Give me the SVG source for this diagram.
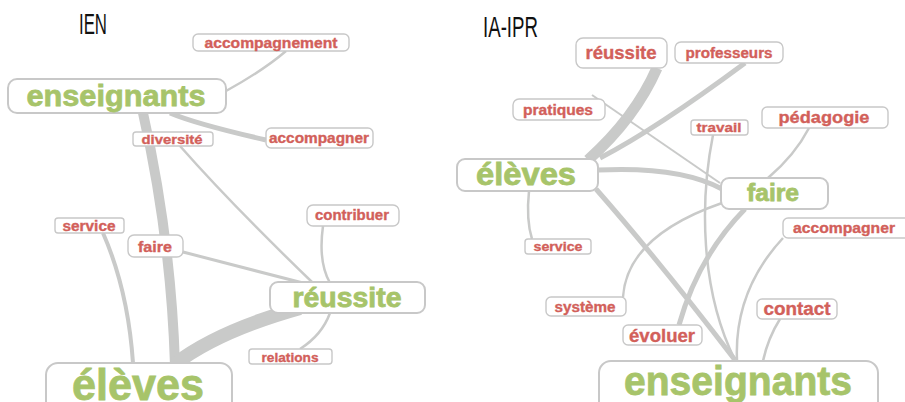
<svg xmlns="http://www.w3.org/2000/svg" width="905" height="402" viewBox="0 0 905 402">
<style>
.e{fill:none;stroke:#c9cac9;stroke-linecap:butt}
.b{fill:#fff;stroke:#c8c8c8;stroke-width:1.4}
.B{fill:#fff;stroke:#c8c8c8;stroke-width:2}
.r{fill:#d2605a;stroke:#d2605a;stroke-width:0.35;font-family:"Liberation Sans",Arial,sans-serif;font-weight:700;text-anchor:middle}
.g{fill:#a7c46a;stroke:#a7c46a;stroke-width:0.8;font-family:"Liberation Sans",Arial,sans-serif;font-weight:700;text-anchor:middle}
.t{fill:#111;font-family:"Liberation Sans",Arial,sans-serif;font-size:30px}
</style>
<rect width="905" height="402" fill="#fff"/>
<text class="t" x="79" y="34" textLength="28" lengthAdjust="spacingAndGlyphs">IEN</text>
<text class="t" x="483" y="37" textLength="55" lengthAdjust="spacingAndGlyphs">IA-IPR</text>
<g id="connectors">
<path class="e" stroke-width="2.5" d="M226 91 Q264 70 286 51"/>
<path class="e" stroke-width="5" d="M170 113 Q196 124 266 140"/>
<path class="e" stroke-width="10" d="M143 113 Q171 238 175 365"/>
<path class="e" stroke-width="2.5" d="M180 146 Q232 205 313 283"/>
<path class="e" stroke-width="3" d="M183 252 L303 283"/>
<path class="e" stroke-width="2.5" d="M323 226 Q318 262 330 283"/>
<path class="e" stroke-width="4" d="M103 233 Q128 290 133 363"/>
<path class="e" stroke-width="14" d="M300 308 Q218 331 175 364"/>
<path class="e" stroke-width="2.5" d="M330 313 Q322 335 300 349"/>
<path class="e" stroke-width="11" d="M588 160 Q635 118 657 68"/>
<path class="e" stroke-width="5" d="M600 158 Q656 129 745 63"/>
<path class="e" stroke-width="2" d="M592 95 L720 183"/>
<path class="e" stroke-width="5" d="M598 170 Q680 166 722 189"/>
<path class="e" stroke-width="2.5" d="M713 135 C700 200 700 290 735 360"/>
<path class="e" stroke-width="2.5" d="M809 128 Q795 155 768 178"/>
<path class="e" stroke-width="5" d="M596 189 Q660 262 735 360"/>
<path class="e" stroke-width="2.5" d="M529 191 Q526 220 532 239"/>
<path class="e" stroke-width="2.5" d="M722 203 Q627 236 623 297"/>
<path class="e" stroke-width="5" d="M745 209 Q698 257 679 325"/>
<path class="e" stroke-width="2.5" d="M783 238 Q734 291 737 360"/>
<path class="e" stroke-width="2.5" d="M780 319 Q768 338 763 361"/>
</g>
<g id="n-accompagnement"><rect class="b" x="193" y="34" width="156" height="17" rx="5"/><text class="r" x="271" y="47.5" font-size="14" textLength="133" lengthAdjust="spacingAndGlyphs">accompagnement</text></g>
<g id="n-enseignants-ien"><rect class="B" x="8" y="79" width="218" height="34" rx="9"/><text class="g" x="116" y="106" font-size="30" textLength="179" lengthAdjust="spacingAndGlyphs">enseignants</text></g>
<g id="n-diversite"><rect class="b" x="133" y="132" width="80" height="14" rx="3"/><text class="r" x="172" y="143.5" font-size="13.5" textLength="61" lengthAdjust="spacingAndGlyphs">diversité</text></g>
<g id="n-accompagner-ien"><rect class="b" x="266" y="128" width="107" height="20" rx="5"/><text class="r" x="319" y="143" font-size="14" textLength="100" lengthAdjust="spacingAndGlyphs">accompagner</text></g>
<g id="n-contribuer"><rect class="b" x="307" y="205" width="92" height="21" rx="6"/><text class="r" x="352" y="220" font-size="14" textLength="74" lengthAdjust="spacingAndGlyphs">contribuer</text></g>
<g id="n-service-ien"><rect class="b" x="55" y="218" width="69" height="15" rx="3"/><text class="r" x="89" y="230.5" font-size="14" textLength="53" lengthAdjust="spacingAndGlyphs">service</text></g>
<g id="n-faire-ien"><rect class="b" x="128" y="235" width="55" height="22" rx="6"/><text class="r" x="155" y="251.5" font-size="14.5" textLength="34" lengthAdjust="spacingAndGlyphs">faire</text></g>
<g id="n-reussite-ien"><rect class="B" x="270" y="282" width="155" height="31" rx="8"/><text class="g" x="347" y="306.5" font-size="27" textLength="109" lengthAdjust="spacingAndGlyphs">réussite</text></g>
<g id="n-relations"><rect class="b" x="249" y="349" width="83" height="15" rx="3"/><text class="r" x="290" y="361.5" font-size="13.5" textLength="57" lengthAdjust="spacingAndGlyphs">relations</text></g>
<g id="n-eleves-ien"><rect class="B" x="46" y="363" width="186" height="50" rx="12"/><text class="g" x="138" y="400" font-size="44" textLength="132" lengthAdjust="spacingAndGlyphs">élèves</text></g>
<g id="n-reussite-ipr"><rect class="b" x="576" y="38" width="91" height="30" rx="7"/><text class="r" x="621" y="58.5" font-size="17.5" textLength="71" lengthAdjust="spacingAndGlyphs">réussite</text></g>
<g id="n-professeurs"><rect class="b" x="675" y="42" width="108" height="21" rx="6"/><text class="r" x="729" y="57.5" font-size="14.5" textLength="87" lengthAdjust="spacingAndGlyphs">professeurs</text></g>
<g id="n-pratiques"><rect class="b" x="513" y="99" width="92" height="21" rx="6"/><text class="r" x="558" y="114.5" font-size="14.5" textLength="70" lengthAdjust="spacingAndGlyphs">pratiques</text></g>
<g id="n-travail"><rect class="b" x="691" y="120" width="57" height="15" rx="3"/><text class="r" x="719" y="132" font-size="13.5" textLength="45" lengthAdjust="spacingAndGlyphs">travail</text></g>
<g id="n-pedagogie"><rect class="b" x="762" y="107" width="126" height="21" rx="5"/><text class="r" x="824" y="122.5" font-size="17" textLength="91" lengthAdjust="spacingAndGlyphs">pédagogie</text></g>
<g id="n-eleves-ipr"><rect class="B" x="457" y="159" width="141" height="32" rx="8"/><text class="g" x="526" y="185" font-size="31" textLength="100" lengthAdjust="spacingAndGlyphs">élèves</text></g>
<g id="n-faire-ipr"><rect class="B" x="721" y="178" width="107" height="31" rx="8"/><text class="g" x="773" y="200.5" font-size="24" textLength="52" lengthAdjust="spacingAndGlyphs">faire</text></g>
<g id="n-accompagner-ipr"><rect class="b" x="783" y="218" width="130" height="20" rx="5"/><text class="r" x="844" y="233" font-size="14.5" textLength="102" lengthAdjust="spacingAndGlyphs">accompagner</text></g>
<g id="n-service-ipr"><rect class="b" x="525" y="239" width="66" height="15" rx="3"/><text class="r" x="558" y="251" font-size="13.5" textLength="49" lengthAdjust="spacingAndGlyphs">service</text></g>
<g id="n-systeme"><rect class="b" x="546" y="297" width="80" height="19" rx="5"/><text class="r" x="585" y="311.5" font-size="14.5" textLength="61" lengthAdjust="spacingAndGlyphs">système</text></g>
<g id="n-contact"><rect class="b" x="757" y="299" width="80" height="20" rx="5"/><text class="r" x="797" y="315" font-size="18" textLength="67" lengthAdjust="spacingAndGlyphs">contact</text></g>
<g id="n-evoluer"><rect class="b" x="623" y="325" width="79" height="20" rx="5"/><text class="r" x="662" y="342" font-size="18" textLength="66" lengthAdjust="spacingAndGlyphs">évoluer</text></g>
<g id="n-enseignants-ipr"><rect class="B" x="599" y="361" width="279" height="52" rx="12"/><text class="g" x="738" y="395" font-size="40" textLength="228" lengthAdjust="spacingAndGlyphs">enseignants</text></g>
</svg>
